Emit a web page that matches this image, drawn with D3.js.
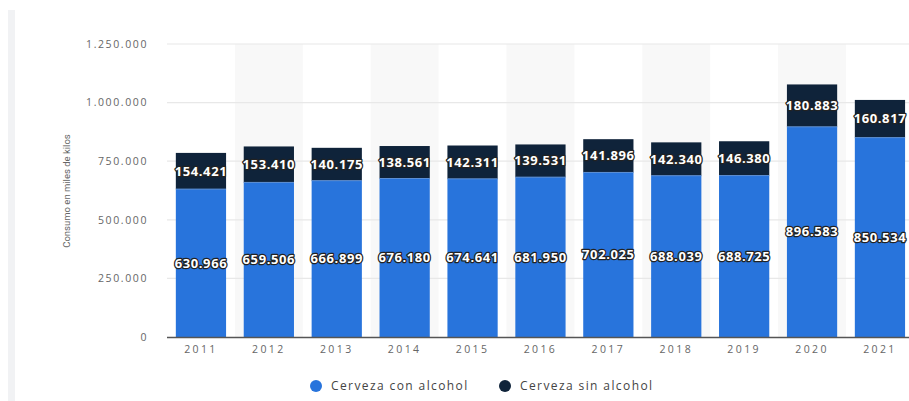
<!DOCTYPE html>
<html><head><meta charset="utf-8">
<script src="https://cdn.jsdelivr.net/npm/d3@7"></script>
<style>body{margin:0;background:#fff;}svg{display:block;}</style>
</head><body>
<svg id="c" width="909" height="401"></svg>
<script>
const years = ["2011","2012","2013","2014","2015","2016","2017","2018","2019","2020","2021"];
const conAlcohol = [630966,659506,666899,676180,674641,681950,702025,688039,688725,896583,850534];
const sinAlcohol = [154421,153410,140175,138561,142311,139531,141896,142340,146380,180883,160817];
const yTicks = [0,250000,500000,750000,1000000,1250000];
const seriesNames = ["Cerveza con alcohol","Cerveza sin alcohol"];
const colors = ["#2874dc","#0f233a"];

const svg = d3.select("#c");
const fmt = v => d3.format(",")(v).replace(/,/g,".");
const mLeft = 167, mBottom = 337, mTop = 44;
const step = 67.9;
const x = d3.scaleBand().domain(years).range([mLeft, mLeft + step*years.length]).paddingInner(0.26).paddingOuter(0.13);
const y = d3.scaleLinear().domain([0,1250000]).range([mBottom, mTop]);

// left strip
svg.append("rect").attr("x",8).attr("y",10).attr("width",7).attr("height",391).attr("fill","#f1f2f4");

// alternating column backgrounds
const xb = d3.scaleBand().domain(years).range([mLeft, mLeft + step*years.length]);
svg.append("g").selectAll("rect").data(years.filter((d,i)=>i%2===1)).join("rect")
  .attr("x", d=>xb(d)).attr("y", mTop).attr("width", xb.bandwidth()).attr("height", mBottom-mTop)
  .attr("fill","#f8f8f8");

// grid
svg.append("g").selectAll("line").data(yTicks.filter(d=>d>0)).join("line")
  .attr("x1",mLeft).attr("x2",909).attr("y1",d=>y(d)).attr("y2",d=>y(d))
  .attr("stroke","#e8e8e8").attr("stroke-width",1.2);

// y axis labels
const yAxis = d3.axisLeft(y).tickValues(yTicks).tickFormat(fmt).tickSize(0).tickPadding(0);
const gy = svg.append("g").attr("transform",`translate(148,0)`).call(yAxis);
gy.select(".domain").remove();
gy.selectAll("text").attr("fill","#666").style("font-family","Open Sans").style("font-size","10.5px").style("letter-spacing","1.6px");

// y title
svg.append("text").attr("transform","translate(70,191) rotate(-90)").attr("text-anchor","middle")
  .attr("fill","#666").style("font-family","Roboto").style("font-size","9.5px").text("Consumo en miles de kilos");

// bars
const stack = years.map((yr,i)=>({yr, a:conAlcohol[i], b:sinAlcohol[i]}));
const g = svg.append("g");
g.selectAll(".ba").data(stack).join("rect").attr("class","ba")
  .attr("x",d=>x(d.yr)).attr("width",x.bandwidth())
  .attr("y",d=>y(d.a)).attr("height",d=>y(0)-y(d.a)).attr("fill",colors[0]);
g.selectAll(".bb").data(stack).join("rect").attr("class","bb")
  .attr("x",d=>x(d.yr)).attr("width",x.bandwidth())
  .attr("y",d=>y(d.a+d.b)).attr("height",d=>y(d.a)-y(d.a+d.b)).attr("fill",colors[1]);
g.selectAll(".sep").data(stack).join("line").attr("class","sep")
  .attr("x1",d=>x(d.yr)).attr("x2",d=>x(d.yr)+x.bandwidth())
  .attr("y1",d=>y(d.a)).attr("y2",d=>y(d.a)).attr("stroke","#5b8fd6").attr("stroke-width",1);

// x axis
const xAxis = d3.axisBottom(x).tickSize(0).tickPadding(9);
const gx = svg.append("g").attr("transform",`translate(0,${mBottom})`).call(xAxis);
gx.select(".domain").attr("d",`M${mLeft},0.5H909`).attr("stroke","#555").attr("stroke-width",1.5);
gx.selectAll("text").attr("fill","#666").style("font-family","Open Sans").style("font-size","10.5px").style("letter-spacing","2.4px");

// labels
function lbl(sel){
  sel.attr("text-anchor","middle").attr("dy","0.35em")
    .style("font-family","Open Sans").style("font-weight","bold").style("font-size","13px")
    .style("letter-spacing","0.6px")
    .attr("fill","#fff").attr("stroke","#222").attr("stroke-width",2.5).attr("paint-order","stroke")
    .attr("stroke-linejoin","round");
}
g.selectAll(".la").data(stack).join("text").attr("class","la")
  .attr("x",d=>x(d.yr)+x.bandwidth()/2).attr("y",d=>(y(0)+y(d.a))/2).text(d=>fmt(d.a)).call(lbl);
g.selectAll(".lb").data(stack).join("text").attr("class","lb")
  .attr("x",d=>x(d.yr)+x.bandwidth()/2).attr("y",d=>(y(d.a)+y(d.a+d.b))/2).text(d=>fmt(d.b)).call(lbl);

// legend
const lx = [316, 505];
const lg = svg.append("g");
seriesNames.forEach((n,i)=>{
  lg.append("circle").attr("cx",lx[i]).attr("cy",386).attr("r",6).attr("fill",colors[i]);
  lg.append("text").attr("x",lx[i]+15).attr("y",386).attr("dy","0.35em").attr("fill","#444")
    .style("font-family","Open Sans").style("font-size","12px").style("letter-spacing","1.4px").text(n);
});
</script>
</body></html>
